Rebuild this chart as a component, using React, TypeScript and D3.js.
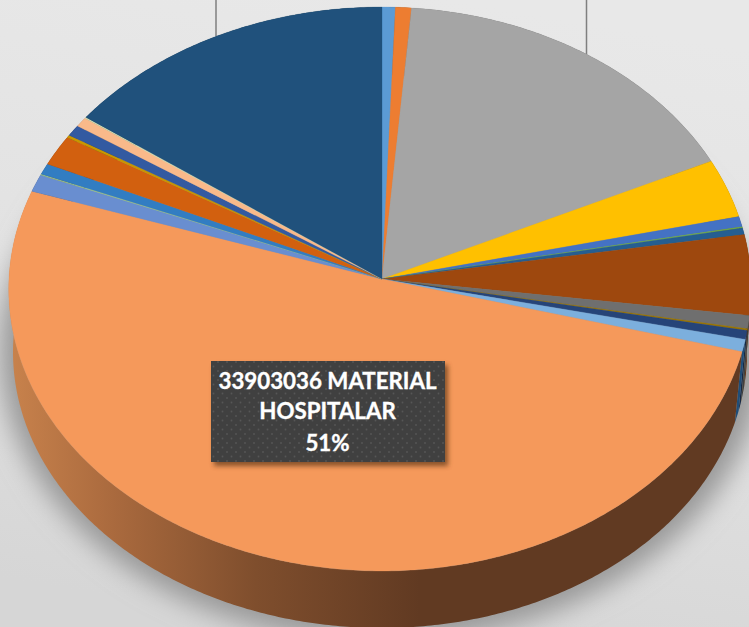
import { useEffect, useRef } from 'react'
import * as d3 from 'd3'

// share of each slice in percent, clockwise from 12 o'clock
const SHARES = [0.6, 0.72, 16.7, 3.4, 0.6, 0.07, 0.38, 4.6, 0.75, 0.1, 0.5, 0.7, 51, 1.0, 0.06, 0.64, 1.75, 0.15, 0.65, 0.55, 0.06, 15.04]
const COLORS = ['#5b9bd5', '#ed7d31', '#a5a5a5', '#ffc000', '#4472c4', '#70ad47', '#255e91', '#9e480e', '#6f6f6f', '#997300', '#264478', '#7cafdd', '#f5995b', '#698ed0', '#a2c987', '#327dc2', '#d2600f', '#c99700', '#335aa1', '#f9b98a', '#dfe8b8', '#20517c']
const SIDE_COLORS = ['#33597c', '#8a481c', '#606060', '#947000', '#27426f', '#41652a', '#15365a', '#5c2a08', '#404040', '#594300', '#162844', '#1f4e79', '#613a22', '#3d5378', '#5e754e', '#1d4871', '#7a3709', '#755800', '#1e345d', '#916b50', '#82876b', '#122f47']
const LABEL_LINES = ['33903036 MATERIAL', 'HOSPITALAR', '51%']
const BIG_SLICE = 12

const width = 749, height = 627
const tilt = 0.0355

// the picture's pie is a touch narrower on its right half
const rimX = d3.scaleLinear().domain([-1, 0, 1]).range([9, 382, 751])
const rimY = d3.scaleLinear().domain([-1, 1]).range([279 + 281.6, 279 - 281.6])
const baseX = d3.scaleLinear().domain([-1, 0, 1]).range([13, 382, 747])
const baseY = d3.scaleLinear().domain([-1, 1]).range([352 + 276, 352 - 276])

// top face with a little perspective: the far half is squeezed
const topPoint = (a: number): [number, number] => {
  const u = Math.sin(a), v = Math.cos(a), w = 1 + tilt * v
  return [rimX(u / w), rimY(v / w)]
}
const basePoint = (a: number): [number, number] => [baseX(Math.sin(a)), baseY(Math.cos(a))]

const sampleAngles = (a0: number, a1: number) => {
  const n = Math.max(2, Math.ceil((a1 - a0) / 0.01))
  return d3.range(n + 1).map(i => a0 + (a1 - a0) * i / n)
}

const App = () => {
  const ref = useRef<SVGSVGElement>(null)

  useEffect(() => {
    const svg = d3.select(ref.current)
    svg.selectAll('*').remove()

    const defs = svg.append('defs')

    const bg = defs.append('linearGradient').attr('id', 'bg')
      .attr('x1', 0.6).attr('y1', 0).attr('x2', 0.4).attr('y2', 1)
    bg.append('stop').attr('offset', 0).attr('stop-color', '#e8e8e8')
    bg.append('stop').attr('offset', 0.5).attr('stop-color', '#e2e2e2')
    bg.append('stop').attr('offset', 1).attr('stop-color', '#d6d6d6')

    const side = defs.append('linearGradient').attr('id', 'sideGrad')
      .attr('gradientUnits', 'userSpaceOnUse')
      .attr('x1', 10).attr('y1', 0).attr('x2', 420).attr('y2', 0)
    side.append('stop').attr('offset', 0).attr('stop-color', '#c8824c')
    side.append('stop').attr('offset', 0.25).attr('stop-color', '#aa6a3e')
    side.append('stop').attr('offset', 0.6).attr('stop-color', '#7f4e2d')
    side.append('stop').attr('offset', 1).attr('stop-color', '#613a22')

    defs.append('filter').attr('id', 'pieShadow')
      .attr('x', -0.2).attr('y', -0.2).attr('width', 1.4).attr('height', 1.4)
      .append('feGaussianBlur').attr('stdDeviation', 13)

    defs.append('filter').attr('id', 'boxShadow')
      .attr('x', -0.1).attr('y', -0.1).attr('width', 1.2).attr('height', 1.3)
      .append('feGaussianBlur').attr('stdDeviation', 2.5)

    const dots = defs.append('pattern').attr('id', 'dots')
      .attr('patternUnits', 'userSpaceOnUse').attr('width', 9).attr('height', 9)
    dots.append('rect').attr('width', 9).attr('height', 9).attr('fill', '#404040')
    dots.append('circle').attr('cx', 2).attr('cy', 2).attr('r', 0.9).attr('fill', '#565656')
    dots.append('circle').attr('cx', 6.5).attr('cy', 6.5).attr('r', 0.9).attr('fill', '#565656')

    svg.append('rect').attr('width', width).attr('height', height).attr('fill', 'url(#bg)')

    // leader lines sticking out behind the pie
    svg.append('line').attr('x1', 216).attr('x2', 216).attr('y1', 0).attr('y2', 36)
      .attr('stroke', '#7f7f7f').attr('stroke-width', 1.5)
    svg.append('line').attr('x1', 586.5).attr('x2', 586.5).attr('y1', 0).attr('y2', 54)
      .attr('stroke', '#7f7f7f').attr('stroke-width', 1.5)

    svg.append('ellipse')
      .attr('cx', 382).attr('cy', 350).attr('rx', 382).attr('ry', 292)
      .attr('fill', '#989898')
      .attr('filter', 'url(#pieShadow)')

    const arcs = d3.pie<number>().sort(null).value(d => d)(SHARES)
    const path = d3.line()

    // side wall first, the top face paints over whatever is hidden
    arcs.forEach((arc, i) => {
      const angles = sampleAngles(arc.startAngle, arc.endAngle)
      const pts = [...angles.map(topPoint), ...angles.slice().reverse().map(basePoint)]
      svg.append('path')
        .attr('d', path(pts) + 'Z')
        .attr('fill', i === BIG_SLICE ? 'url(#sideGrad)' : SIDE_COLORS[i])
    })

    const centre: [number, number] = [rimX(0), rimY(0)]
    arcs.forEach((arc, i) => {
      const pts = [centre, ...sampleAngles(arc.startAngle, arc.endAngle).map(topPoint)]
      svg.append('path')
        .attr('d', path(pts) + 'Z')
        .attr('fill', COLORS[i])
        .attr('stroke', COLORS[i])
        .attr('stroke-width', 0.3)
    })

    // data label of the biggest slice
    svg.append('rect').attr('x', 214).attr('y', 365).attr('width', 234).attr('height', 101)
      .attr('fill', '#5a3418').attr('opacity', 0.7).attr('filter', 'url(#boxShadow)')
    svg.append('rect').attr('x', 211).attr('y', 361).attr('width', 234).attr('height', 101)
      .attr('fill', 'url(#dots)')

    svg.append('g').selectAll('text')
      .data(LABEL_LINES)
      .enter().append('text')
      .attr('x', 327.5)
      .attr('y', (d, i) => [389, 419, 451][i])
      .attr('text-anchor', 'middle')
      .attr('fill', '#ffffff')
      .attr('stroke', '#ffffff')
      .attr('stroke-width', 0.35)
      .style('font-family', 'Lato, "Open Sans", sans-serif')
      .style('font-weight', 'bold')
      .style('font-size', '22.3px')
      .text(d => d)
  }, [])

  return <svg ref={ref} width={width} height={height} style={{ position: 'fixed', left: 0, top: 0 }} />
}

export default App
